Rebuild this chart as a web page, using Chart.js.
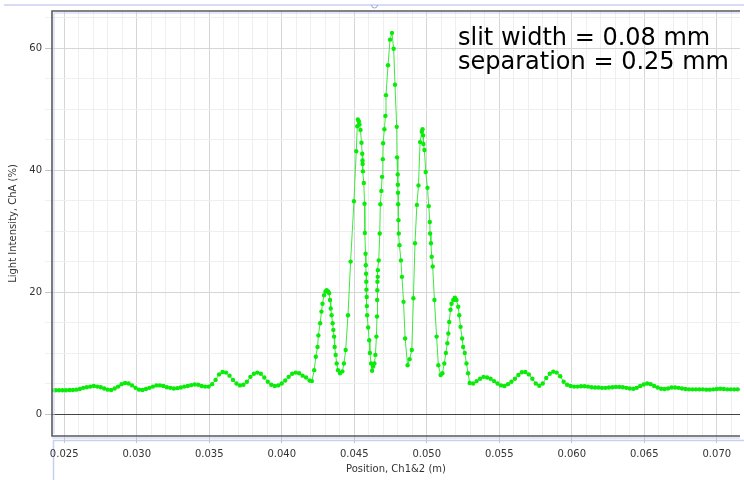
<!DOCTYPE html>
<html>
<head>
<meta charset="utf-8">
<script src="https://cdn.jsdelivr.net/npm/chart.js@4.4.1/dist/chart.umd.min.js"></script>
<style>
  html, body { margin: 0; padding: 0; background: #fff; }
  #wrap { width: 744px; height: 480px; position: relative; }
</style>
</head>
<body>
<div id="wrap"><canvas id="c" width="744" height="480"></canvas></div>
<script>
// position along the screen (m)
const positions = [
  0.02416, 0.02440, 0.02464, 0.02488, 0.02512, 0.02536, 0.02560, 0.02584, 0.02608, 0.02632,
  0.02656, 0.02680, 0.02704, 0.02728, 0.02752, 0.02776, 0.02800, 0.02824, 0.02848, 0.02872,
  0.02896, 0.02920, 0.02944, 0.02968, 0.02992, 0.03016, 0.03040, 0.03064, 0.03088, 0.03112,
  0.03136, 0.03160, 0.03184, 0.03208, 0.03232, 0.03256, 0.03280, 0.03304, 0.03328, 0.03352,
  0.03376, 0.03400, 0.03424, 0.03448, 0.03472, 0.03496, 0.03520, 0.03544, 0.03568, 0.03592,
  0.03616, 0.03640, 0.03664, 0.03688, 0.03712, 0.03736, 0.03760, 0.03784, 0.03808, 0.03832,
  0.03856, 0.03880, 0.03904, 0.03928, 0.03952, 0.03976, 0.04000, 0.04024, 0.04048, 0.04072,
  0.04096, 0.04120, 0.04144, 0.04168, 0.04192, 0.04208, 0.04224, 0.04235, 0.04247, 0.04253,
  0.04265, 0.04274, 0.04281, 0.04292, 0.04302, 0.04310, 0.04320, 0.04327, 0.04333, 0.04338,
  0.04344, 0.04351, 0.04356, 0.04361, 0.04365, 0.04372, 0.04379, 0.04388, 0.04402, 0.04418,
  0.04429, 0.04441, 0.04457, 0.04475, 0.04498, 0.04514, 0.04521, 0.04525, 0.04532, 0.04536,
  0.04543, 0.04550, 0.04555, 0.04557, 0.04558, 0.04560, 0.04566, 0.04571, 0.04573, 0.04578,
  0.04580, 0.04582, 0.04583, 0.04584, 0.04586, 0.04587, 0.04589, 0.04596, 0.04603, 0.04608,
  0.04616, 0.04623, 0.04630, 0.04639, 0.04646, 0.04653, 0.04657, 0.04658, 0.04659, 0.04660,
  0.04662, 0.04663, 0.04669, 0.04676, 0.04680, 0.04687, 0.04692, 0.04697, 0.04699, 0.04708,
  0.04715, 0.04719, 0.04733, 0.04747, 0.04760, 0.04772, 0.04781, 0.04793, 0.04795, 0.04800,
  0.04801, 0.04802, 0.04803, 0.04805, 0.04807, 0.04812, 0.04822, 0.04829, 0.04840, 0.04851,
  0.04868, 0.04882, 0.04897, 0.04908, 0.04919, 0.04932, 0.04943, 0.04954, 0.04966, 0.04971,
  0.04975, 0.04977, 0.04984, 0.04993, 0.05005, 0.05014, 0.05021, 0.05023, 0.05029, 0.05034,
  0.05041, 0.05053, 0.05068, 0.05080, 0.05096, 0.05108, 0.05121, 0.05132, 0.05142, 0.05149,
  0.05155, 0.05164, 0.05171, 0.05183, 0.05194, 0.05205, 0.05217, 0.05224, 0.05233, 0.05244,
  0.05251, 0.05262, 0.05274, 0.05285, 0.05296, 0.05320, 0.05344, 0.05368, 0.05392, 0.05416,
  0.05440, 0.05464, 0.05488, 0.05512, 0.05536, 0.05560, 0.05584, 0.05608, 0.05632, 0.05656,
  0.05680, 0.05704, 0.05728, 0.05752, 0.05776, 0.05800, 0.05824, 0.05848, 0.05872, 0.05896,
  0.05920, 0.05944, 0.05968, 0.05992, 0.06016, 0.06040, 0.06064, 0.06088, 0.06112, 0.06136,
  0.06160, 0.06184, 0.06208, 0.06232, 0.06256, 0.06280, 0.06304, 0.06328, 0.06352, 0.06376,
  0.06400, 0.06424, 0.06448, 0.06472, 0.06496, 0.06520, 0.06544, 0.06568, 0.06592, 0.06616,
  0.06640, 0.06664, 0.06688, 0.06712, 0.06736, 0.06760, 0.06784, 0.06808, 0.06832, 0.06856,
  0.06880, 0.06904, 0.06928, 0.06952, 0.06976, 0.07000, 0.07024, 0.07048, 0.07072, 0.07096,
  0.07120, 0.07144
];

// light intensity (%), one per position
const intensity = [
  3.9, 3.9, 3.9, 3.9, 3.9, 3.95, 3.95, 4.0, 4.1, 4.3,
  4.4, 4.5, 4.6, 4.5, 4.4, 4.2, 4.0, 3.95, 4.2, 4.5,
  4.9, 5.1, 5.0, 4.7, 4.3, 4.0, 3.95, 4.1, 4.3, 4.5,
  4.7, 4.7, 4.6, 4.4, 4.3, 4.2, 4.25, 4.35, 4.5, 4.6,
  4.75, 4.85, 4.8, 4.6, 4.5, 4.5, 4.9, 5.6, 6.5, 6.9,
  6.8, 6.3, 5.6, 5.0, 4.7, 4.8, 5.3, 6.1, 6.6, 6.8,
  6.6, 6.0, 5.3, 4.8, 4.6, 4.7, 5.0, 5.5, 6.1, 6.6,
  6.8, 6.7, 6.3, 6.0, 5.5, 5.4, 7.2, 9.4, 11.0, 12.9,
  14.9, 16.8, 18.1, 19.5, 20.1, 20.3, 20.1, 19.8, 18.7, 17.3,
  16.2, 14.9, 13.8, 12.7, 11.0, 9.7, 8.3, 7.2, 6.7, 7.0,
  8.3, 10.5, 16.2, 25.0, 34.9, 43.1, 47.2, 48.3, 48.0, 47.5,
  46.6, 44.5, 42.7, 41.6, 41.0, 39.8, 37.9, 34.5, 29.7, 26.3,
  24.4, 23.0, 21.7, 20.4, 19.2, 17.7, 16.2, 14.2, 12.1, 10.0,
  8.3, 7.1, 7.8, 8.3, 9.7, 12.7, 16.0, 18.7, 20.3, 21.7,
  22.5, 23.6, 25.2, 29.6, 34.4, 36.6, 38.9, 41.8, 44.4, 46.7,
  48.9, 52.3, 57.2, 61.4, 62.5, 59.9, 54.0, 47.1, 42.1, 39.3,
  37.6, 36.3, 34.4, 31.8, 29.6, 27.7, 25.2, 22.5, 18.4, 12.4,
  8.0, 9.0, 10.5, 19.0, 28.0, 34.3, 37.5, 44.6, 46.3, 46.7,
  45.7, 44.3, 43.3, 39.7, 37.1, 34.1, 31.5, 29.6, 28.0, 25.8,
  24.2, 18.7, 12.7, 8.0, 6.4, 6.7, 8.3, 10.0, 11.6, 13.2,
  15.1, 17.1, 18.1, 18.7, 19.1, 18.7, 17.6, 16.2, 14.3, 12.4,
  11.0, 10.0, 8.3, 6.7, 5.1, 5.0, 5.4, 5.8, 6.1, 6.0,
  5.8, 5.4, 5.0, 4.7, 4.6, 4.9, 5.3, 5.8, 6.4, 6.85,
  6.9, 6.5, 5.8, 5.0, 4.65, 5.0, 5.9, 6.6, 6.95, 6.8,
  6.2, 5.3, 4.8, 4.6, 4.5, 4.5, 4.55, 4.55, 4.5, 4.4,
  4.35, 4.35, 4.3, 4.3, 4.35, 4.4, 4.45, 4.45, 4.4, 4.3,
  4.2, 4.15, 4.3, 4.6, 4.85, 5.0, 4.9, 4.6, 4.35, 4.15,
  4.1, 4.2, 4.35, 4.35, 4.3, 4.2, 4.1, 4.05, 4.05, 4.05,
  4.05, 4.05, 4.0, 4.0, 4.05, 4.1, 4.15, 4.1, 4.05, 4.05,
  4.05, 4.05
];

const xTickValues = [0.025, 0.030, 0.035, 0.040, 0.045, 0.050, 0.055, 0.060, 0.065, 0.070];
const xTickLabels = ['0.025', '0.030', '0.035', '0.040', '0.045', '0.050', '0.055', '0.060', '0.065', '0.070'];
const yTickValues = [0, 20, 40, 60];
const yTickLabels = ['0', '20', '40', '60'];

const noteLines = ['slit width = 0.08 mm', 'separation = 0.25 mm'];

const FONT = 'DejaVu Sans';
const LIGHT_BLUE = '#c7d0f0';

function findTick(values, v) {
  for (let i = 0; i < values.length; i++) {
    if (Math.abs(values[i] - v) < 1e-7) return i;
  }
  return -1;
}

// frame, pane decorations and the slit note
const framePlugin = {
  id: 'frame',
  beforeDraw(chart) {
    const ctx = chart.ctx;
    const a = chart.chartArea;
    ctx.save();
    ctx.fillStyle = '#fff';
    ctx.fillRect(0, 0, chart.width, chart.height);
    // top strip of the pane
    ctx.strokeStyle = LIGHT_BLUE;
    ctx.lineWidth = 1.5;
    ctx.beginPath();
    ctx.moveTo(4, 5);
    ctx.lineTo(chart.width, 5);
    ctx.stroke();
    ctx.strokeStyle = '#9aa4d8';
    ctx.lineWidth = 1;
    ctx.beginPath();
    ctx.arc(374.5, 5, 3, 0, Math.PI);
    ctx.stroke();
    // x axis box
    ctx.strokeStyle = LIGHT_BLUE;
    ctx.lineWidth = 1.5;
    ctx.beginPath();
    ctx.moveTo(a.left + 1.5, chart.height);
    ctx.lineTo(a.left + 1.5, a.bottom + 4.5);
    ctx.lineTo(chart.width, a.bottom + 4.5);
    ctx.stroke();
    ctx.restore();
  },
  afterDatasetsDraw(chart) {
    const ctx = chart.ctx;
    const a = chart.chartArea;
    ctx.save();
    ctx.strokeStyle = LIGHT_BLUE;
    ctx.lineWidth = 1;
    ctx.beginPath();
    ctx.moveTo(a.left + 2, a.bottom - 2);
    ctx.lineTo(a.left + 2, a.top + 2);
    ctx.lineTo(a.right, a.top + 2);
    ctx.moveTo(a.left, a.bottom + 2);
    ctx.lineTo(a.right, a.bottom + 2);
    ctx.stroke();
    ctx.strokeStyle = '#5a5a5a';
    ctx.lineWidth = 1.6;
    ctx.beginPath();
    ctx.moveTo(a.right, a.top);
    ctx.lineTo(a.left, a.top);
    ctx.lineTo(a.left, a.bottom);
    ctx.lineTo(a.right, a.bottom);
    ctx.stroke();

    ctx.fillStyle = '#000';
    ctx.font = '24px "' + FONT + '"';
    ctx.textAlign = 'left';
    ctx.textBaseline = 'alphabetic';
    ctx.fillText(noteLines[0], 458, 44.5);
    ctx.fillText(noteLines[1], 458, 68.5);
    ctx.restore();
  }
};

const tickFont = { family: FONT, size: 10 };

new Chart(document.getElementById('c'), {
  type: 'scatter',
  data: {
    datasets: [{
      label: 'Light Intensity, ChA',
      data: positions.map((x, i) => ({ x, y: intensity[i] })),
      showLine: true,
      borderColor: '#3fe83f',
      borderWidth: 1,
      pointRadius: 2.2,
      pointBorderWidth: 0,
      pointBackgroundColor: '#0aeb0a',
      pointBorderColor: '#0aeb0a'
    }]
  },
  options: {
    responsive: false,
    animation: false,
    events: [],
    layout: { padding: { top: 11, left: 0, right: 0, bottom: 0 } },
    plugins: {
      legend: { display: false },
      tooltip: { enabled: false }
    },
    scales: {
      x: {
        type: 'linear',
        min: 0.02416,
        max: 0.0716,
        afterFit: (s) => { s.height = 44; },
        border: { display: false },
        grid: {
          color: (c) => findTick(xTickValues, c.tick.value) >= 0 ? '#d6d6d6' : '#efefef',
          tickColor: (c) => findTick(xTickValues, c.tick.value) >= 0 ? '#c4c4c4' : 'rgba(0,0,0,0)',
          tickLength: 7,
          lineWidth: 1
        },
        ticks: {
          stepSize: 0.001,
          includeBounds: false,
          autoSkip: false,
          maxRotation: 0,
          padding: 5,
          color: '#333',
          font: tickFont,
          callback: (v) => {
            const i = findTick(xTickValues, v);
            return i >= 0 ? xTickLabels[i] : '';
          }
        },
        title: {
          display: true,
          text: 'Position, Ch1&2 (m)',
          color: '#333',
          font: tickFont,
          padding: { top: 0, bottom: 5 }
        }
      },
      y: {
        type: 'linear',
        min: -3.6,
        max: 66.1,
        afterFit: (s) => { s.width = 52; },
        border: { display: false },
        grid: {
          color: (c) => {
            const v = c.tick.value;
            if (Math.abs(v) < 1e-7) return '#444';
            return findTick(yTickValues, v) >= 0 ? '#d6d6d6' : '#efefef';
          },
          tickColor: (c) => findTick(yTickValues, c.tick.value) >= 0 ? '#c4c4c4' : '#f0f0f0',
          tickLength: 7,
          lineWidth: 1
        },
        ticks: {
          stepSize: 5,
          includeBounds: false,
          autoSkip: false,
          padding: 3,
          color: '#333',
          font: tickFont,
          callback: (v) => {
            const i = findTick(yTickValues, v);
            return i >= 0 ? yTickLabels[i] : '';
          }
        },
        title: {
          display: true,
          text: 'Light Intensity, ChA (%)',
          color: '#333',
          font: tickFont,
          padding: { top: 7, bottom: 0 }
        }
      }
    }
  },
  plugins: [framePlugin]
});
</script>
</body>
</html>
